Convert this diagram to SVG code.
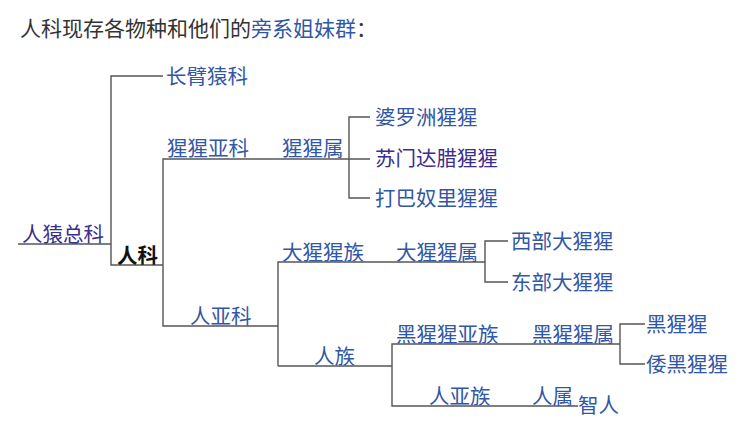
<svg xmlns="http://www.w3.org/2000/svg" width="750" height="445" viewBox="0 0 750 445">
<style>
text{font-family:"Noto Sans CJK SC","Noto Sans",sans-serif;font-size:20.5px;fill:#3157a6}
.v{fill:#3a2e8e}
.t{fill:#333;font-size:21px}
.b{fill:#111;font-weight:bold}
#connectors path{fill:none;stroke:#555;stroke-width:1.4}
</style>
<rect width="750" height="445" fill="#fff"/>
<text class="t" x="20" y="36">人科现存各物种和他们的<tspan style="fill:#3157a6">旁系姐妹群</tspan>：</text>
<g id="connectors">
<path d="M18,244 H111"/>
<path d="M163,76 H111 V265 H163"/>
<path d="M349,159 H163 V326 H278"/>
<path d="M370,117 H349 V198 H370 M349,159 H370"/>
<path d="M278,366 V262 H485"/>
<path d="M508,241 H485 V282 H508"/>
<path d="M278,366 H392"/>
<path d="M620,344 H392 V406 H578"/>
<path d="M645,324 H620 V364 H645"/>
</g>
<g id="n-hominoidea"><text class="v" x="22" y="242">人猿总科</text></g>
<g id="n-hylobatidae"><text x="166" y="84">长臂猿科</text></g>
<g id="n-hominidae"><text class="b" x="117" y="263">人科</text></g>
<g id="n-ponginae"><text x="167" y="156">猩猩亚科</text></g>
<g id="n-pongo"><text x="282" y="156">猩猩属</text></g>
<g id="n-borneo"><text x="375" y="125">婆罗洲猩猩</text></g>
<g id="n-sumatra"><text class="v" x="375" y="166">苏门达腊猩猩</text></g>
<g id="n-tapanuli"><text x="375" y="206">打巴奴里猩猩</text></g>
<g id="n-homininae"><text x="190" y="324">人亚科</text></g>
<g id="n-gorillini"><text x="282" y="260">大猩猩族</text></g>
<g id="n-gorilla"><text x="396" y="260">大猩猩属</text></g>
<g id="n-western"><text x="511" y="249">西部大猩猩</text></g>
<g id="n-eastern"><text x="511" y="290">东部大猩猩</text></g>
<g id="n-hominini"><text x="314" y="364">人族</text></g>
<g id="n-panina"><text x="396" y="342">黑猩猩亚族</text></g>
<g id="n-pan"><text x="532" y="342">黑猩猩属</text></g>
<g id="n-chimp"><text x="646" y="332">黑猩猩</text></g>
<g id="n-bonobo"><text x="646" y="372">倭黑猩猩</text></g>
<g id="n-hominina"><text x="429" y="404">人亚族</text></g>
<g id="n-homo"><text x="532" y="404">人属</text></g>
<g id="n-sapiens"><text x="578" y="413">智人</text></g>
</svg>
